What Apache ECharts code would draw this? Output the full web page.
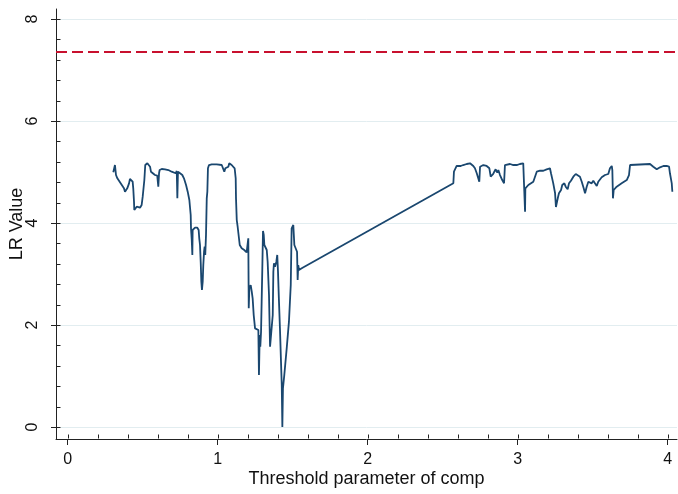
<!DOCTYPE html>
<html>
<head>
<meta charset="utf-8">
<script src="https://cdn.jsdelivr.net/npm/echarts@6/dist/echarts.min.js"></script>
<style>
html,body{margin:0;padding:0;background:#fff;}
#chart{width:678px;height:494px;}
</style>
</head>
<body>
<div id="chart"></div>
<script>
// threshold parameter values (x)
const thresholds = [0.304,0.315,0.322,0.331,0.342,0.353,0.364,0.375,0.382,0.389,0.397,0.404,0.409,0.415,0.427,0.433,0.437,0.442,0.444,0.453,0.460,0.471,0.482,0.493,0.500,0.511,0.517,0.531,0.542,0.549,0.555,0.567,0.582,0.597,0.604,0.609,0.613,0.627,0.649,0.671,0.693,
0.704,0.720,0.727,0.731,0.735,0.749,0.764,0.775,0.789,0.800,0.811,0.820,0.822,0.827,0.831,0.833,0.849,0.864,0.873,0.877,0.882,0.887,0.891,0.895,0.900,0.904,0.909,0.913,0.917,0.922,0.927,0.931,0.935,0.942,0.960,0.993,1.027,1.037,1.044,1.051,1.060,1.071,1.077,1.089,1.093,1.104,1.113,1.120,1.122,1.127,1.133,1.142,1.147,
1.160,1.177,1.193,1.200,1.204,1.207,1.211,1.220,1.227,1.233,1.240,1.249,1.260,1.271,1.275,1.280,1.284,1.289,1.293,1.297,1.302,1.307,1.311,1.320,1.327,1.333,1.342,1.349,1.360,1.367,1.371,1.375,1.382,1.391,1.397,1.402,1.407,1.415,1.422,1.427,1.431,1.435,1.444,1.460,1.475,1.487,1.493,1.504,1.511,1.522,1.529,1.533,1.537,1.542,1.560,
2.571,2.575,2.593,2.604,2.620,2.637,2.660,2.682,2.693,2.704,2.715,2.727,2.744,2.749,2.755,2.771,2.782,2.793,2.811,2.820,2.827,2.837,2.844,2.853,2.864,2.871,2.882,2.897,2.909,2.915,2.927,2.949,2.971,2.993,3.015,3.037,3.044,3.049,3.051,3.071,3.104,3.127,3.149,3.171,3.193,3.204,3.215,3.222,3.237,3.249,3.255,3.267,3.275,3.289,3.297,3.311,3.320,3.333,3.342,3.355,3.371,3.387,3.400,3.415,3.427,3.440,3.449,3.460,3.471,3.482,3.493,3.504,3.515,3.527,3.537,3.549,3.560,3.571,3.582,3.593,3.604,3.615,3.627,3.631,3.635,3.640,3.660,3.693,3.727,3.742,3.749,3.760,3.882,3.904,3.927,3.949,3.971,3.993,4.009,4.015,4.027,4.031];
// LR statistic values (y)
const lrValues = [4.994,5.137,4.941,4.876,4.843,4.778,4.745,4.680,4.614,4.647,4.680,4.680,4.778,4.863,4.863,4.810,4.680,4.418,4.255,4.288,4.320,4.320,4.300,4.353,4.516,4.843,5.137,5.171,5.171,5.104,5.006,4.975,4.941,4.927,4.712,4.975,5.039,5.059,5.053,5.039,5.006,
5.006,4.975,5.020,4.484,5.006,4.975,4.941,4.876,4.745,4.614,4.451,4.157,3.896,3.667,3.373,3.863,3.908,3.908,3.863,3.700,3.569,3.210,2.849,2.686,2.849,3.176,3.437,3.535,3.373,3.765,4.484,4.614,5.073,5.137,5.151,5.151,5.137,5.124,5.006,5.073,5.104,5.104,5.171,5.190,5.137,5.171,5.073,4.876,4.484,4.059,3.927,3.896,3.569,
3.504,3.471,3.425,3.406,3.700,2.327,2.720,2.784,2.653,2.524,2.196,1.935,1.902,1.902,1.020,1.804,1.575,1.869,2.457,3.045,3.843,3.765,3.569,3.602,3.471,3.241,2.588,1.575,1.555,2.196,3.045,3.210,3.143,3.241,3.373,3.045,2.588,1.935,1.280,0.824,0.000,0.759,1.020,1.543,2.065,2.784,3.896,3.961,3.569,3.602,3.437,2.882,3.176,3.078,3.112,
4.778,5.006,5.118,5.104,5.118,5.137,5.157,5.171,5.157,5.118,5.073,4.975,4.810,5.104,5.137,5.137,5.104,5.118,5.073,4.908,4.941,4.961,5.006,5.053,4.986,5.039,4.941,4.843,4.778,5.137,5.171,5.157,5.137,5.137,5.157,5.171,5.157,4.222,4.680,4.745,4.810,5.006,5.025,5.025,5.053,5.025,5.073,4.975,4.778,4.588,4.314,4.484,4.582,4.647,4.745,4.778,4.712,4.661,4.778,4.829,4.908,4.961,4.975,4.908,4.810,4.680,4.582,4.712,4.810,4.790,4.778,4.829,4.778,4.725,4.810,4.843,4.896,4.908,4.941,4.975,4.961,5.073,5.118,5.039,4.484,4.647,4.712,4.778,4.843,4.941,5.137,5.157,5.157,5.104,5.053,5.092,5.118,5.118,5.104,4.975,4.778,4.614];
// critical value (dashed reference line)
const criticalValue = 7.35;
// tick labels
const xTicks = [0, 1, 2, 3, 4];
const yTicks = [0, 2, 4, 6, 8];
const xMinorTicks = [0,0.2,0.4,0.6,0.8,1,1.2,1.4,1.6,1.8,2,2.2,2.4,2.6,2.8,3,3.2,3.4,3.6,3.8,4];
const yMinorTicks = [0,0.4,0.8,1.2,1.6,2,2.4,2.8,3.2,3.6,4,4.4,4.8,5.2,5.6,6,6.4,6.8,7.2,7.6,8];

const points = thresholds.map((x, i) => [x, lrValues[i]]);
const FONT = '"Liberation Sans", Arial, sans-serif';
const XMIN = -0.078, XMAX = 4.062, YMIN = -0.235, YMAX = 8.196;
const GRID_L = 56, GRID_R = 1, GRID_T = 9, GRID_B = 55;
const axisCol = '#222';

const chart = echarts.init(document.getElementById('chart'), null, {renderer:'canvas'});
chart.setOption({
  animation:false,
  backgroundColor:'#ffffff',
  grid:{left:GRID_L, right:GRID_R, top:GRID_T, bottom:GRID_B, containLabel:false, outerBoundsMode:'none'},
  xAxis:{type:'value', min:XMIN, max:XMAX, position:'bottom',
     name:'Threshold parameter of comp', nameLocation:'middle', nameGap:31, nameMoveOverlap:false,
     nameTextStyle:{fontFamily:FONT, fontSize:18, color:'#111'},
     axisLine:{show:true, onZero:false, lineStyle:{color:axisCol, width:1}},
     axisTick:{show:true, length:6, customValues:xTicks, lineStyle:{color:axisCol, width:1}},
     axisLabel:{customValues:xTicks, fontFamily:FONT, fontSize:16, color:'#111', margin:13},
     splitLine:{show:false}},
  yAxis:{type:'value', min:YMIN, max:YMAX, position:'left',
     name:'LR Value', nameLocation:'middle', nameGap:30, nameMoveOverlap:false,
     nameTextStyle:{fontFamily:FONT, fontSize:18, color:'#111'},
     axisLine:{show:true, onZero:false, lineStyle:{color:axisCol, width:1}},
     axisTick:{show:true, length:5, customValues:yTicks, lineStyle:{color:axisCol, width:1}},
     axisLabel:{customValues:yTicks, rotate:90, fontFamily:FONT, fontSize:16, color:'#111', margin:15},
     splitLine:{show:true, lineStyle:{color:'#e2edf0', width:1}}},
  series:[{
    type:'line', data:points,
    showSymbol:false, symbol:'none',
    lineStyle:{color:'#1a476f', width:1.8},
    markLine:{silent:true, symbol:['none','none'], label:{show:false},
      lineStyle:{color:'#c8102e', width:1.8, type:[11,5]},
      data:[{yAxis:criticalValue}]}
  }]
});

// inner (minor) tick marks placed through the axes' own scales
const axX = Math.round(chart.convertToPixel({xAxisIndex:0}, XMIN)) + 0.5;
const axY = Math.round(chart.convertToPixel({yAxisIndex:0}, YMIN)) - 0.5;
const tickEls = [];
xMinorTicks.forEach(v => {
  const px = Math.round(chart.convertToPixel({xAxisIndex:0}, v)) + 0.5;
  tickEls.push({type:'line', silent:true, shape:{x1:px, y1:axY, x2:px, y2:axY - 4},
    style:{stroke:axisCol, lineWidth:1}});
});
yMinorTicks.forEach(v => {
  const py = Math.round(chart.convertToPixel({yAxisIndex:0}, v)) + 0.5;
  tickEls.push({type:'line', silent:true, shape:{x1:axX, y1:py, x2:axX + 4, y2:py},
    style:{stroke:axisCol, lineWidth:1}});
});
chart.setOption({graphic:{elements:tickEls}});
</script>
</body>
</html>
